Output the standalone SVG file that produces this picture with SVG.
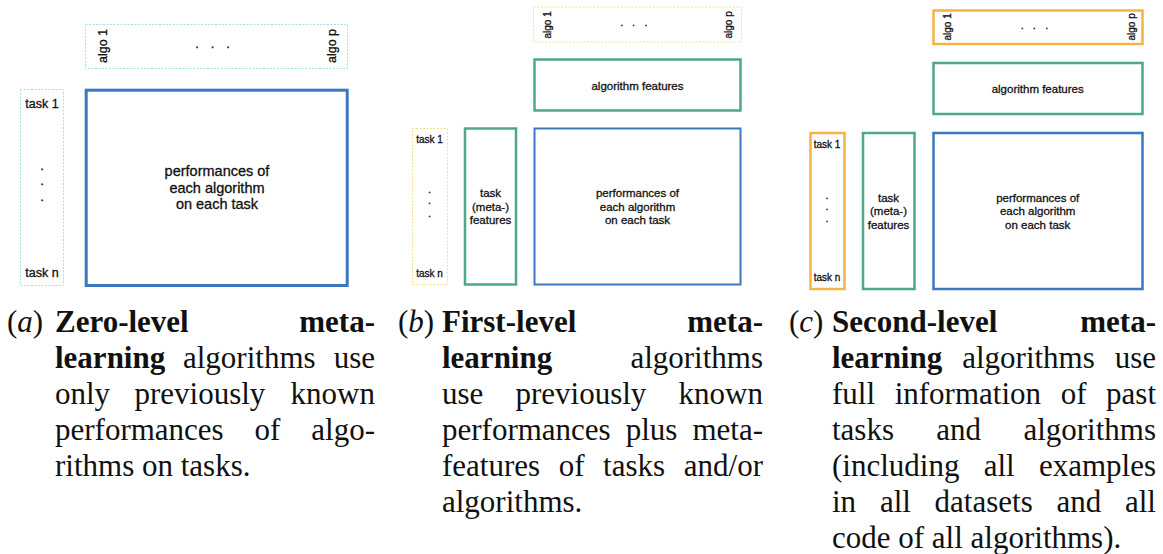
<svg xmlns="http://www.w3.org/2000/svg" width="1163" height="554" viewBox="0 0 1163 554">
<style>
.s{font-family:"Liberation Sans",Arial,Helvetica,sans-serif;fill:#111;stroke:#111;stroke-width:0.3}
.m{text-anchor:middle}
.e{text-anchor:end}
.cap{font-family:"Liberation Serif","Times New Roman",serif;font-size:31px;fill:#111}
.b{font-weight:bold}
.dotc{fill:none;stroke:#9fe3e6;stroke-width:1;stroke-dasharray:2 1.5}
.doty{fill:none;stroke:#f3e08a;stroke-width:1;stroke-dasharray:2 1.5}
.blue{fill:none;stroke:#3b78bf}
.green{fill:none;stroke:#4ea88a;stroke-width:2.5}
.orange{fill:none;stroke:#f5b343;stroke-width:2.5}
</style>
<rect width="1163" height="554" fill="#fff"/>
<g id="connectors"/>

<!-- Panel a -->
<g id="a-algos">
<rect class="dotc" x="85.5" y="24.5" width="262" height="44"/>
<text class="s" font-size="12.5" transform="translate(106.5,63) rotate(-90)">algo 1</text>
<text class="s" font-size="12.5" transform="translate(335.5,63) rotate(-90)">algo p</text>
<text class="s m" font-size="13" x="197 212.5 228" y="48">...</text>
</g>
<g id="a-tasks">
<rect class="dotc" x="20.5" y="89.5" width="43" height="196"/>
<text class="s m" font-size="12.5" x="42" y="108">task 1</text>
<text class="s m" font-size="13" x="42" y="170">.</text>
<text class="s m" font-size="13" x="42" y="185">.</text>
<text class="s m" font-size="13" x="42" y="201">.</text>
<text class="s m" font-size="12.5" x="42" y="277">task n</text>
</g>
<g id="a-perf">
<rect class="blue" stroke-width="3" x="86.2" y="90.2" width="261" height="195.3"/>
<text class="s m" font-size="14.5" x="217" y="176">performances of</text>
<text class="s m" font-size="14.5" x="217" y="192.5">each algorithm</text>
<text class="s m" font-size="14.5" x="217" y="209">on each task</text>
</g>

<!-- Panel b -->
<g id="b-algos">
<rect class="doty" x="533.5" y="7" width="208" height="35"/>
<text class="s" font-size="10" transform="translate(551,38.5) rotate(-90)">algo 1</text>
<text class="s" font-size="10" transform="translate(731.5,38.5) rotate(-90)">algo p</text>
<text class="s m" font-size="11" x="621.7 633.5 646" y="26">...</text>
</g>
<g id="b-algofeat">
<rect class="green" stroke-width="2" x="534.5" y="59.5" width="206" height="51"/>
<text class="s m" font-size="11.5" x="637.5" y="89.5">algorithm features</text>
</g>
<g id="b-tasks">
<rect class="doty" x="412.5" y="128.5" width="35" height="156"/>
<text class="s m" font-size="10" x="429.5" y="143">task 1</text>
<text class="s m" font-size="11" x="429.5" y="192.5">.</text>
<text class="s m" font-size="11" x="429.5" y="204">.</text>
<text class="s m" font-size="11" x="429.5" y="216.5">.</text>
<text class="s m" font-size="10" x="429.5" y="277">task n</text>
</g>
<g id="b-taskfeat">
<rect class="green" stroke-width="2" x="465" y="128.5" width="51" height="156"/>
<text class="s m" font-size="11.5" x="490.5" y="197">task</text>
<text class="s m" font-size="11.5" x="490.5" y="210.5">(meta-)</text>
<text class="s m" font-size="11.5" x="490.5" y="224">features</text>
</g>
<g id="b-perf">
<rect class="blue" stroke-width="2" x="534.5" y="128.5" width="206" height="156"/>
<text class="s m" font-size="11.5" x="637.5" y="197">performances of</text>
<text class="s m" font-size="11.5" x="637.5" y="210.5">each algorithm</text>
<text class="s m" font-size="11.5" x="637.5" y="224">on each task</text>
</g>

<!-- Panel c -->
<g id="c-algos">
<rect class="orange" x="933.5" y="10.5" width="209" height="33.5"/>
<text class="s" font-size="10" transform="translate(950.5,40.5) rotate(-90)">algo 1</text>
<text class="s" font-size="10" transform="translate(1134.5,40.5) rotate(-90)">algo p</text>
<text class="s m" font-size="11" x="1022.3 1034.3 1046.7" y="28.5">...</text>
</g>
<g id="c-algofeat">
<rect class="green" x="933.5" y="63" width="209" height="51"/>
<text class="s m" font-size="11.5" x="1037.7" y="92.5">algorithm features</text>
</g>
<g id="c-tasks">
<rect class="orange" x="810.5" y="133" width="34" height="156"/>
<text class="s m" font-size="10" x="827" y="147.5">task 1</text>
<text class="s m" font-size="11" x="827" y="198.5">.</text>
<text class="s m" font-size="11" x="827" y="210">.</text>
<text class="s m" font-size="11" x="827" y="222">.</text>
<text class="s m" font-size="10" x="827" y="281">task n</text>
</g>
<g id="c-taskfeat">
<rect class="green" x="863" y="133" width="51.5" height="156"/>
<text class="s m" font-size="11.5" x="888.5" y="201.5">task</text>
<text class="s m" font-size="11.5" x="888.5" y="215">(meta-)</text>
<text class="s m" font-size="11.5" x="888.5" y="228.5">features</text>
</g>
<g id="c-perf">
<rect class="blue" stroke-width="2.5" x="933.5" y="133" width="209" height="156"/>
<text class="s m" font-size="11.5" x="1037.7" y="201.5">performances of</text>
<text class="s m" font-size="11.5" x="1037.7" y="215">each algorithm</text>
<text class="s m" font-size="11.5" x="1037.7" y="228.5">on each task</text>
</g>

<!-- Captions -->
<g id="caption-a" class="cap">
<text x="7" y="332">(<tspan font-style="italic">a</tspan>)</text>
<text class="b" x="55" y="332">Zero-level</text>
<text class="b e" x="375" y="332">meta-</text>
<text class="b" x="55" y="368">learning</text>
<text x="183" y="368">algorithms</text>
<text class="e" x="375" y="368">use</text>
<text x="55" y="404">only</text>
<text x="134.5" y="404">previously</text>
<text class="e" x="375" y="404">known</text>
<text x="55" y="440">performances</text>
<text x="254.5" y="440">of</text>
<text class="e" x="375" y="440">algo-</text>
<text x="55" y="476">rithms on tasks.</text>
</g>
<g id="caption-b" class="cap">
<text x="398" y="332">(<tspan font-style="italic">b</tspan>)</text>
<text class="b" x="442" y="332">First-level</text>
<text class="b e" x="763" y="332">meta-</text>
<text class="b" x="442" y="368">learning</text>
<text class="e" x="763" y="368">algorithms</text>
<text x="442" y="404">use</text>
<text x="515.5" y="404">previously</text>
<text class="e" x="763" y="404">known</text>
<text x="442" y="440">performances</text>
<text x="625.7" y="440">plus</text>
<text class="e" x="763" y="440">meta-</text>
<text x="442" y="476">features</text>
<text x="558.7" y="476">of</text>
<text x="603.1" y="476">tasks</text>
<text class="e" x="763" y="476">and/or</text>
<text x="442" y="512">algorithms.</text>
</g>
<g id="caption-c" class="cap">
<text x="789" y="332">(<tspan font-style="italic">c</tspan>)</text>
<text class="b" x="832" y="332">Second-level</text>
<text class="b e" x="1156" y="332">meta-</text>
<text class="b" x="832" y="368">learning</text>
<text x="962.2" y="368">algorithms</text>
<text class="e" x="1156" y="368">use</text>
<text x="832" y="404">full</text>
<text x="894.7" y="404">information</text>
<text x="1060.7" y="404">of</text>
<text class="e" x="1156" y="404">past</text>
<text x="832" y="440">tasks</text>
<text x="936.3" y="440">and</text>
<text class="e" x="1156" y="440">algorithms</text>
<text x="832" y="476">(including</text>
<text x="983.7" y="476">all</text>
<text class="e" x="1156" y="476">examples</text>
<text x="832" y="512">in</text>
<text x="879.9" y="512">all</text>
<text x="934.6" y="512">datasets</text>
<text x="1056.5" y="512">and</text>
<text class="e" x="1156" y="512">all</text>
<text x="832" y="548">code of all algorithms).</text>
</g>
</svg>
